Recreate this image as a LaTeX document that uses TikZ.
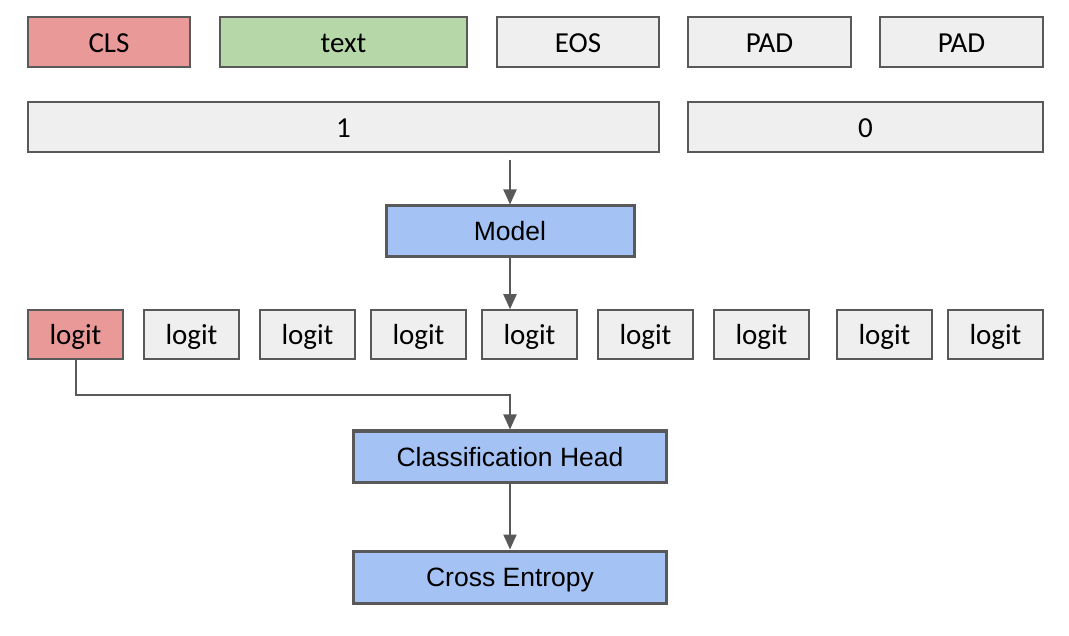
\documentclass[tikz,border=0pt]{standalone}
\usepackage{fontspec}
\setmainfont{Liberation Sans}
\newfontfamily\carl{Carlito}
\usetikzlibrary{arrows.meta}
\definecolor{pinkc}{HTML}{EA9999}
\definecolor{greenc}{HTML}{B6D7A8}
\definecolor{greyc}{HTML}{EFEFEF}
\definecolor{bluec}{HTML}{A4C2F4}
\definecolor{edgec}{HTML}{595959}
\tikzset{
  tok/.style={draw=edgec, line width=1.5pt, fill=greyc, minimum height=50pt, inner sep=0pt, text height=25pt, text depth=4pt, font=\carl\fontsize{29}{32}\selectfont},
  logitbox/.style={tok, minimum width=95pt, minimum height=49pt},
  proc/.style={draw=edgec, line width=3pt, fill=bluec, inner sep=0pt, minimum height=51pt, text height=23.9pt, text depth=4.9pt, font=\fontsize{26.5}{30}\selectfont},
  conn/.style={draw=edgec, line width=2pt, -{Triangle[length=15pt,width=13pt]}}
}
\begin{document}
\begin{tikzpicture}[x=1pt,y=-1pt]
\useasboundingbox (0,0) rectangle (1069,636);
% top row
\node[tok, fill=pinkc, minimum width=162pt] (cls) at (109,42) {CLS};
\node[tok, fill=greenc, minimum width=247pt] (text) at (343.5,42) {text};
\node[tok, minimum width=162pt] (eos) at (578,42) {EOS};
\node[tok, minimum width=163pt] (pad1) at (769.5,42) {PAD};
\node[tok, minimum width=163pt] (pad2) at (961.5,42) {PAD};
% mask row
\node[tok, minimum width=631pt] (one) at (343.5,127) {1};
\node[tok, minimum width=355pt] (zero) at (865.5,127) {0};
% model
\node[proc, minimum width=248pt] (model) at (510,231.5) {Model};
\coordinate (in) at (510,160);
\draw[conn] (in) -- (model.north);
% logits
\node[logitbox, fill=pinkc] (l1) at (75.5,334.5) {logit};
\node[logitbox] (l2) at (191.5,334.5) {logit};
\node[logitbox] (l3) at (307.5,334.5) {logit};
\node[logitbox] (l4) at (418.5,334.5) {logit};
\node[logitbox] (l5) at (529.5,334.5) {logit};
\node[logitbox] (l6) at (645.5,334.5) {logit};
\node[logitbox] (l7) at (761.5,334.5) {logit};
\node[logitbox] (l8) at (884.5,334.5) {logit};
\node[logitbox] (l9) at (995.5,334.5) {logit};
\draw[conn] (model.south) -- (model.south |- l5.north);
% head
\node[proc, minimum width=313pt] (head) at (510,456.5) {Classification Head};
\node[proc, minimum width=313pt, minimum height=52pt] (ce) at (510,577) {Cross Entropy};
\coordinate (bend) at (75.5,395);
\draw[conn] (l1.south) -- (bend) -| (head.north);
\draw[conn] (head.south) -- (ce.north);
\end{tikzpicture}
\end{document}
